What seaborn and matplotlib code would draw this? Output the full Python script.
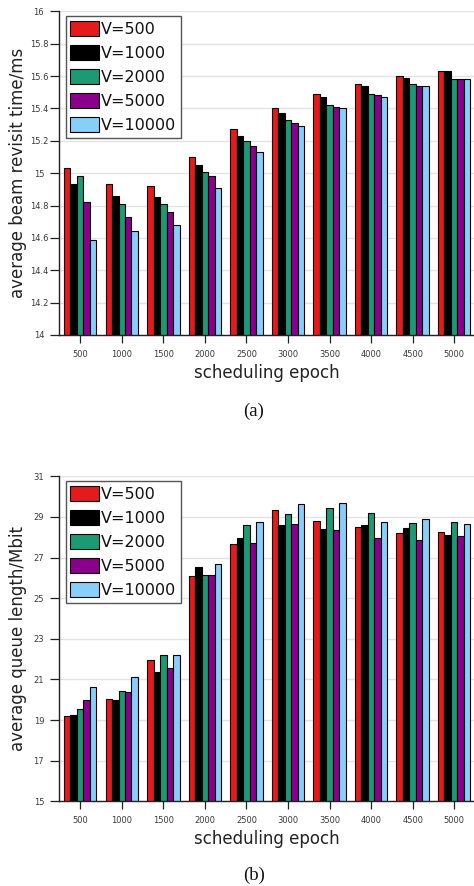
import numpy as np
import pandas as pd
import matplotlib
matplotlib.use("Agg")
import matplotlib.pyplot as plt
import seaborn as sns

# ---- data -------------------------------------------------------------
epochs = ["500", "1000", "1500", "2000", "2500", "3000", "3500", "4000", "4500", "5000"]
series = ["V=500", "V=1000", "V=2000", "V=5000", "V=10000"]
colors = ["#E41A1C", "#000000", "#1B9A74", "#8B008B", "#87CEFA"]

# average beam revisit time (ms), one list per V
revisit_v500 = [15.03, 14.93, 14.92, 15.10, 15.27, 15.40, 15.49, 15.55, 15.60, 15.63]
revisit_v1000 = [14.93, 14.86, 14.85, 15.05, 15.23, 15.37, 15.47, 15.54, 15.59, 15.63]
revisit_v2000 = [14.98, 14.81, 14.81, 15.01, 15.20, 15.33, 15.42, 15.49, 15.55, 15.58]
revisit_v5000 = [14.82, 14.73, 14.76, 14.98, 15.17, 15.31, 15.41, 15.48, 15.54, 15.58]
revisit_v10000 = [14.59, 14.64, 14.68, 14.91, 15.13, 15.29, 15.40, 15.47, 15.54, 15.58]

# average queue length (Mbit), one list per V
queue_v500 = [19.22, 20.02, 21.98, 26.10, 27.67, 29.34, 28.80, 28.50, 28.22, 28.27]
queue_v1000 = [19.27, 19.97, 21.35, 26.52, 27.98, 28.60, 28.40, 28.58, 28.45, 28.09]
queue_v2000 = [19.56, 20.45, 22.22, 26.12, 28.60, 29.13, 29.42, 29.18, 28.72, 28.76]
queue_v5000 = [19.97, 20.37, 21.55, 26.13, 27.70, 28.63, 28.35, 27.96, 27.88, 28.04]
queue_v10000 = [20.62, 21.14, 22.19, 26.70, 28.73, 29.65, 29.67, 28.73, 28.91, 28.67]

revisit_ticks = [14, 14.2, 14.4, 14.6, 14.8, 15, 15.2, 15.4, 15.6, 15.8, 16]
queue_ticks = [15, 17, 19, 21, 23, 25, 27, 29, 31]


def long_table(columns):
    rows = []
    for name, vals in zip(series, columns):
        for ep, v in zip(epochs, vals):
            rows.append({"epoch": ep, "V": name, "value": v})
    return pd.DataFrame(rows)


revisit_df = long_table([revisit_v500, revisit_v1000, revisit_v2000,
                         revisit_v5000, revisit_v10000])
queue_df = long_table([queue_v500, queue_v1000, queue_v2000,
                       queue_v5000, queue_v10000])

# ---- style ------------------------------------------------------------
sns.set_theme(style="whitegrid")
plt.rcParams["font.family"] = ["DejaVu Sans"]
plt.rcParams["axes.edgecolor"] = "#222222"
plt.rcParams["grid.color"] = "#e3e3e3"
plt.rcParams["grid.linewidth"] = 1.0

fig = plt.figure(figsize=(4.74, 8.86), dpi=100)
W, H = 474.0, 886.0


def px_axes(left, top, right, bottom):
    return fig.add_axes([left / W, 1 - bottom / H, (right - left) / W, (bottom - top) / H])


ax_top = px_axes(59, 11.3, 475.4, 335)
ax_bot = px_axes(59, 476.3, 475.4, 801.3)


def draw_panel(ax, df, ylim, yticks, ylabel):
    sns.barplot(data=df, x="epoch", y="value", hue="V", order=epochs,
                hue_order=series, palette=colors, saturation=1, width=0.78, gap=0,
                edgecolor="black", linewidth=0.8, errorbar=None, ax=ax)
    ax.set_axisbelow(True)
    ax.set_xlim(-0.51, 9.51)
    ax.set_ylim(*ylim)
    ax.set_yticks(yticks)
    ax.set_yticklabels([f"{t:g}" for t in yticks])
    ax.grid(axis="x", visible=False)
    ax.grid(axis="y", visible=True)
    for side in ("top", "right"):
        ax.spines[side].set_visible(False)
    for side in ("left", "bottom"):
        ax.spines[side].set_color("#222222")
        ax.spines[side].set_linewidth(1.0)
    ax.tick_params(axis="y", left=True, length=6.5, width=0.9, color="#222222",
                   labelsize=6, labelcolor="#3a3a3a", pad=8)
    ax.tick_params(axis="x", bottom=True, length=5.5, width=0.9, color="#222222",
                   labelsize=6, labelcolor="#3a3a3a", pad=5)
    for lab in ax.get_yticklabels():
        lab.set_horizontalalignment("center")
    ax.set_xlabel("scheduling epoch", fontsize=12, color="#222222", labelpad=4)
    ax.set_ylabel(ylabel, fontsize=12, color="#222222")
    ax.yaxis.set_label_coords(-0.078, 0.5)

    handles, labels = ax.get_legend_handles_labels()
    leg = ax.legend(handles, labels, loc="upper left", bbox_to_anchor=(0.016, 0.986),
                    borderaxespad=0, fontsize=11.5, handlelength=1.8,
                    handleheight=1.06, handletextpad=0.12, labelspacing=0.52,
                    borderpad=0.3, frameon=True, fancybox=False, framealpha=1,
                    edgecolor="#555555")
    leg.get_frame().set_linewidth(1.0)
    for t in leg.get_texts():
        t.set_color("#111111")


draw_panel(ax_top, revisit_df, (14, 16), revisit_ticks, "average beam revisit time/ms")
draw_panel(ax_bot, queue_df, (15, 31), queue_ticks, "average queue length/Mbit")

fig.text(253.7 / W, 1 - 411 / H, "(a)", ha="center", va="center",
         fontsize=13.5, family=["Liberation Serif"], color="#111111")
fig.text(253.7 / W, 1 - 875.5 / H, "(b)", ha="center", va="center",
         fontsize=13.5, family=["Liberation Serif"], color="#111111")

fig.savefig("out.png", dpi=100)
